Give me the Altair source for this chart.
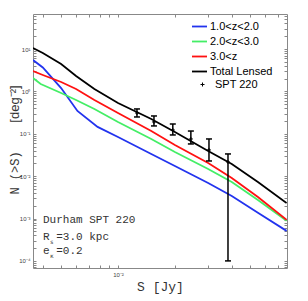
import altair as alt
import pandas as pd

# ---- data ----
series_names = ["1.0<z<2.0", "2.0<z<3.0", "3.0<z", "Total Lensed"]
series_colors = ["#2233ee", "#44ee66", "#ff1111", "#000000"]
series_widths = [1.8, 1.8, 1.8, 2.6]

S_blue = [0.00355, 0.004, 0.005, 0.0061, 0.0078, 0.01, 0.015, 0.02, 0.03, 0.04, 0.055, 0.078]
N_blue = [5.50, 3.66, 1.20, 0.345, 0.145, 0.084, 0.0334, 0.0174, 0.00691, 0.00341, 0.00136, 0.00051]

S_green = [0.00355, 0.0039, 0.005, 0.006, 0.0075, 0.01, 0.015, 0.02, 0.03, 0.04, 0.055, 0.078]
N_green = [2.07, 1.495, 0.917, 0.627, 0.3845, 0.1898, 0.0754, 0.0372, 0.0148, 0.0073, 0.00275, 0.00088]

S_red = [0.00355, 0.004, 0.005, 0.006, 0.0075, 0.01, 0.015, 0.02, 0.03, 0.04, 0.055, 0.078]
N_red = [3.03, 2.44, 1.666, 1.139, 0.627, 0.309, 0.1164, 0.0544, 0.0205, 0.00907, 0.00323, 0.00093]

S_total = [0.00355, 0.004, 0.005, 0.006, 0.0075, 0.01, 0.015, 0.02, 0.03, 0.04, 0.055, 0.078]
N_total = [10.56, 8.05, 4.43, 2.31, 1.139, 0.532, 0.2234, 0.1103, 0.0393, 0.0194, 0.0073, 0.00233]

S_spt = [0.0126, 0.0155, 0.0195, 0.0243, 0.0303, 0.0382]
N_spt = [0.309, 0.190, 0.123, 0.0754, 0.0415, 0.0216]
N_spt_lo = [0.249, 0.153, 0.0937, 0.0575, 0.0228, 0.0001]
N_spt_hi = [0.385, 0.263, 0.170, 0.116, 0.0754, 0.0334]

x_ticks = [0.004, 0.005, 0.006, 0.007, 0.008, 0.009, 0.01, 0.02, 0.03, 0.04, 0.05, 0.06, 0.07]
y_ticks = [k * 10.0 ** e for e in range(-5, 2) for k in range(1, 10)
           if 6.8e-5 <= k * 10.0 ** e <= 67]

ann_S = 0.00401
title_line = "Durham SPT 220"
title_N = 0.00093
ann_prefix = ["R", "e"]
ann_rest = ["=3.0 kpc", "=0.2"]
ann_sub = ["s", "κ"]
ann_N = [0.00037, 0.000172]

# ---- tables ----
rows = []
for name, S, N in zip(series_names, [S_blue, S_green, S_red, S_total],
                      [N_blue, N_green, N_red, N_total]):
    for s, n in zip(S, N):
        rows.append({"series": name, "S": s, "N": n})
lines_df = pd.DataFrame(rows)

spt_df = pd.DataFrame({"S": S_spt, "N": N_spt, "lo": N_spt_lo, "hi": N_spt_hi,
                       "kind": ["SPT 220"] * len(S_spt)})
caps_df = pd.DataFrame({"S": S_spt + S_spt, "N": N_spt_lo + N_spt_hi})
head_df = pd.DataFrame({"S": [ann_S], "N": [title_N], "t": [title_line]})
ann_df = pd.DataFrame({"S": [ann_S] * 2, "N": ann_N, "p": ann_prefix,
                       "r": ann_rest, "s": ann_sub})

xscale = alt.Scale(type="log", domain=[0.00355, 0.0784], nice=False)
yscale = alt.Scale(type="log", domain=[6.8e-5, 67], nice=False)

major = "abs(log(datum.value)/LN10 - round(log(datum.value)/LN10)) < 0.01"
ex = "round(log(datum.value)/LN10)"
sup = (f"(abs({ex})==0?'⁰':abs({ex})==1?'¹':abs({ex})==2?'²':abs({ex})==3?'³':'⁴')")
label_expr = f"{major} ? '10' + ({ex} < 0 ? '⁻' : '') + {sup} : ''"

common = dict(tickSize=3, offset=-3, domain=False, grid=False, tickColor="#888888",
              labelFont="Liberation Sans", labelFontSize=6, labelColor="#444444",
              labelOverlap=False, labelPadding=3)
x_axis = alt.Axis(values=x_ticks, labelExpr=label_expr, title="S [Jy]",
                  titleFont="Liberation Mono", titleFontSize=13, titleFontWeight="normal",
                  titleColor="#333333", titlePadding=3, labelFlush=False, **common)
y_axis = alt.Axis(values=y_ticks, labelExpr=label_expr, title=None, **common)
x_top = alt.Axis(values=x_ticks, orient="top", labels=False, title=None, tickSize=3,
                 offset=-3, domain=False, grid=False, tickColor="#888888")
y_right = alt.Axis(values=y_ticks, orient="right", labels=False, title=None, tickSize=3,
                   offset=-3, domain=False, grid=False, tickColor="#888888")

X = alt.X("S:Q", scale=xscale, axis=x_axis)
Y = alt.Y("N:Q", scale=yscale, axis=y_axis)

lines = alt.Chart(lines_df).mark_line(clip=True).encode(
    x=X, y=Y,
    color=alt.Color("series:N", scale=alt.Scale(domain=series_names, range=series_colors),
                    sort=series_names,
                    legend=alt.Legend(orient="none", legendX=158, legendY=4, title=None,
                                      symbolType="stroke", symbolSize=225,
                                      symbolStrokeWidth=2, labelFont="Liberation Sans",
                                      labelFontSize=11, labelColor="black",
                                      rowPadding=1, labelOffset=2, padding=0)),
    strokeWidth=alt.StrokeWidth("series:N",
                                scale=alt.Scale(domain=series_names, range=series_widths),
                                legend=None),
    order=alt.Order("S:Q"),
)

rules = alt.Chart(spt_df).mark_rule(color="black", strokeWidth=1.5).encode(
    x=X, y=alt.Y("lo:Q", scale=yscale, axis=y_axis), y2="hi:Q")

caps = alt.Chart(caps_df).mark_point(shape="M-1,0H1", size=36, filled=False,
                                     color="black", strokeWidth=1.5, opacity=1).encode(x=X, y=Y)

centers = alt.Chart(spt_df).mark_point(filled=False, strokeWidth=1, opacity=1).encode(
    x=X, y=Y,
    shape=alt.Shape("kind:N", scale=alt.Scale(domain=["SPT 220"], range=["M-1,0H1M0,-1V1"]),
                    legend=alt.Legend(orient="none", legendX=164, legendY=65, title=None,
                                      symbolSize=16, symbolStrokeColor="black",
                                      symbolStrokeWidth=1, labelFont="Liberation Sans",
                                      labelFontSize=11, labelColor="black",
                                      labelOffset=7, padding=0)),
    color=alt.value("black"),
    size=alt.value(16),
)

txt = dict(font="Liberation Mono", fontSize=11, align="left", color="#333333")
head = alt.Chart(head_df).mark_text(**txt).encode(x=X, y=Y, text="t:N")
pre = alt.Chart(ann_df).mark_text(**txt).encode(x=X, y=Y, text="p:N")
rest = alt.Chart(ann_df).mark_text(dx=13.2, **txt).encode(x=X, y=Y, text="r:N")
subs = alt.Chart(ann_df).mark_text(font="DejaVu Sans Mono", fontSize=6, align="left",
                                   dx=7, dy=5, color="#333333").encode(x=X, y=Y, text="s:N")

title_df = pd.DataFrame({"a": [1]})
ytitle1 = alt.Chart(title_df).mark_text(text="N (>S)", font="Liberation Mono", fontSize=12,
                                        angle=270, color="#333333").encode(
    x=alt.value(-18), y=alt.value(159))
ytitle2 = alt.Chart(title_df).mark_text(text="[deg⁻²]", font="Liberation Sans", fontSize=13,
                                        angle=270, color="#333333").encode(
    x=alt.value(-18), y=alt.value(90))

main = alt.layer(lines, rules, caps, centers, head, pre, rest, subs, ytitle1, ytitle2)

mirror = alt.Chart(lines_df).mark_point(opacity=0).encode(
    x=alt.X("S:Q", scale=xscale, axis=x_top),
    y=alt.Y("N:Q", scale=yscale, axis=y_right),
)

chart = alt.layer(main, mirror).resolve_axis(x="independent", y="independent").properties(
    width=254, height=254,
    autosize=alt.AutoSizeParams(type="none"),
    padding={"left": 25, "top": 6, "right": 5, "bottom": 28},
).configure_view(stroke="#888888", strokeWidth=1)

chart.save("out.html", embed_options={"renderer": "svg", "actions": False})
